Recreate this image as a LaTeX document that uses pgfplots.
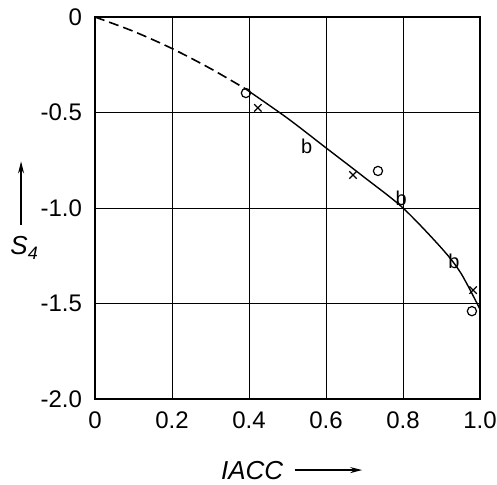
\documentclass[border=0pt]{standalone}
\usepackage{fontspec}
\setmainfont{Liberation Sans}
\usepackage{pgfplots}
\pgfplotsset{compat=1.18}
\usetikzlibrary{arrows.meta}

\begin{document}
\begin{tikzpicture}[x=1pt,y=1pt]
\begin{axis}[
    scale only axis,
    width=192.5pt,
    height=191pt,
    xmin=0, xmax=1,
    ymin=-2, ymax=0,
    xtick={0,0.2,0.4,0.6,0.8,1.0},
    xticklabels={0,0.2,0.4,0.6,0.8,1.0},
    ytick={-2,-1.5,-1,-0.5,0},
    yticklabels={-2.0,-1.5,-1.0,-0.5,0},
    grid=major,
    major grid style={black, line width=0.5pt},
    axis line style={black, line width=0.6pt},
    major tick length=0pt,
    tick label style={font=\fontsize{12}{14}\selectfont},
    xticklabel style={yshift=-3pt},
    yticklabel style={xshift=-3pt},
    /pgf/number format/assume math mode=true,
    clip=false,
]
% curve, dashed part
\addplot[black, line width=0.8pt, dash pattern=on 5pt off 2.5pt, smooth] coordinates {
(0,0) (0.1,-0.075) (0.2,-0.165) (0.3,-0.27) (0.39,-0.375)
};
% curve, solid part
\addplot[black, line width=0.7pt, smooth] coordinates {
(0.39,-0.375) (0.5,-0.53) (0.6,-0.685) (0.7,-0.84) (0.8,-1.0)
(0.9,-1.21) (0.95,-1.34) (1.0,-1.53)
};
% circles
\addplot[only marks, mark=o, mark size=2.3pt, mark options={fill=white, line width=0.6pt}] coordinates {
(0.392,-0.398) (0.735,-0.806) (0.979,-1.54)
};
% crosses
\addplot[only marks, mark=x, mark size=2.6pt, mark options={line width=0.6pt}] coordinates {
(0.423,-0.476) (0.67,-0.827) (0.982,-1.43)
};
% b points
\addplot[only marks, mark=text, text mark={b}, mark options={font=\fontsize{12}{14}\selectfont, fill=white}] coordinates {
(0.55,-0.675) (0.795,-0.948) (0.932,-1.277)
};
% heavier left and top borders
\draw[line width=1.1pt] (rel axis cs:0,0) -- (rel axis cs:0,1) -- (rel axis cs:1,1);
% axis labels with arrows
\node[font=\fontsize{13}{15}\selectfont\itshape] at (rel axis cs:-0.184,0.395) {S\raisebox{-0.35ex}{\fontsize{9}{10}\selectfont 4}};
\draw[line width=0.6pt, -{Stealth[length=6pt,width=3pt]}] (rel axis cs:-0.192,0.455) -- (rel axis cs:-0.192,0.622);
\node[font=\fontsize{13}{15}\selectfont\itshape] at (rel axis cs:0.408,-0.186) {IACC};
\draw[line width=0.6pt, -{Stealth[length=6pt,width=3pt]}] (rel axis cs:0.519,-0.186) -- (rel axis cs:0.694,-0.186);
\end{axis}
\pgfresetboundingbox
\path[use as bounding box] (-47.5pt,-42.5pt) rectangle (201pt,199.5pt);
\end{tikzpicture}
\end{document}
